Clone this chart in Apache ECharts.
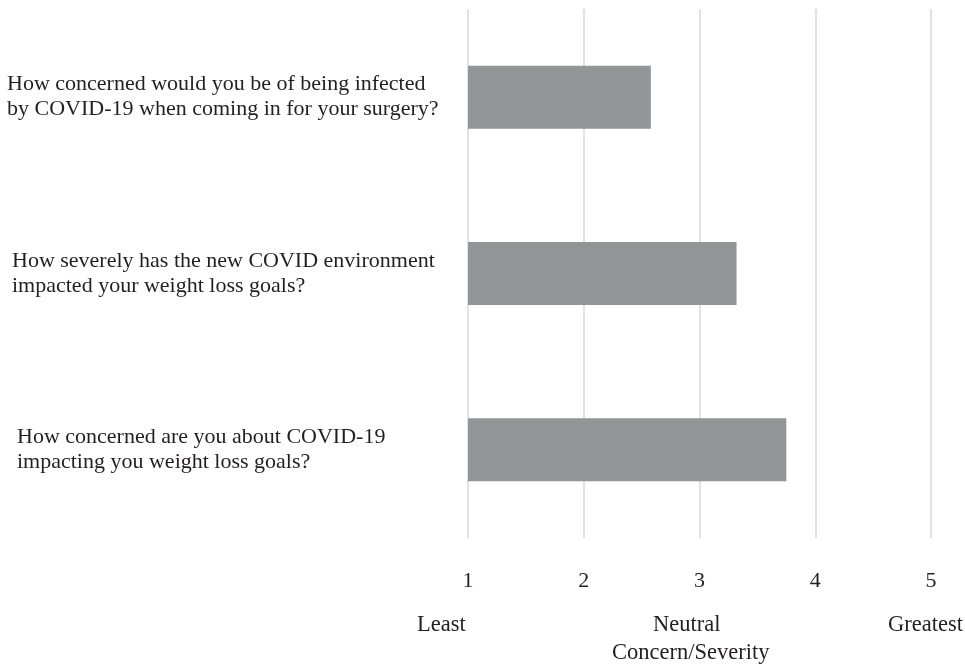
<!DOCTYPE html>
<html>
<head>
<meta charset="utf-8">
<script src="https://cdn.jsdelivr.net/npm/echarts@6/dist/echarts.min.js"></script>
<style>
html,body{margin:0;padding:0;background:#fff;}
#chart{width:965px;height:667px;}
</style>
</head>
<body>
<div id="chart"></div>
<script>
var questions = [
  "How concerned would you be of being infected\nby COVID-19 when coming in for your surgery?",
  "How severely has the new COVID environment\nimpacted your weight loss goals?",
  "How concerned are you about COVID-19\nimpacting you weight loss goals?"
];
var labelIndent = [0, 5, 10];
var scores = [2.58, 3.32, 3.75];
var scaleWords = ["Least", "Neutral", "Greatest"];
var axisTitle = "Concern/Severity";

var FONT = "'Liberation Serif', 'Times New Roman', serif";
var TEXT = "#231f20";
var FS = 22;
var FS2 = 22.5;

var chart = echarts.init(document.getElementById('chart'));
var rich = {};
labelIndent.forEach(function (p, i) {
  rich['q' + i] = {
    fontFamily: FONT, fontSize: FS, color: TEXT, lineHeight: 25,
    align: 'left', padding: [0, 0, 0, p]
  };
});
chart.setOption({
  animation: false,
  backgroundColor: '#fff',
  grid: { left: 468, right: 34, top: 9, bottom: 129 },
  xAxis: {
    type: 'value', min: 1, max: 5, interval: 1,
    axisLine: { show: false }, axisTick: { show: false },
    splitLine: { show: true, lineStyle: { color: '#d9d9d9', width: 1.5 } },
    axisLabel: { margin: 32, fontFamily: FONT, fontSize: FS, color: TEXT }
  },
  yAxis: {
    type: 'category', inverse: true, data: questions,
    axisLine: { show: false }, axisTick: { show: false },
    axisLabel: {
      align: 'left', margin: 461,
      formatter: function (v, idx) {
        return v.split('\n').map(function (s) { return '{q' + idx + '|' + s + '}'; }).join('\n');
      },
      rich: rich
    }
  },
  series: [{
    type: 'bar', data: scores, barWidth: 63,
    itemStyle: { color: '#939598' }
  }],
  graphic: [
    { type: 'text', left: 417, top: 614, style: { text: scaleWords[0], font: FS2 + 'px ' + FONT, fill: TEXT } },
    { type: 'text', left: 653, top: 614, style: { text: scaleWords[1], font: FS2 + 'px ' + FONT, fill: TEXT } },
    { type: 'text', left: 888, top: 614, style: { text: scaleWords[2], font: FS2 + 'px ' + FONT, fill: TEXT } },
    { type: 'text', left: 612, top: 642, style: { text: axisTitle, font: FS2 + 'px ' + FONT, fill: TEXT } }
  ]
});
</script>
</body>
</html>
